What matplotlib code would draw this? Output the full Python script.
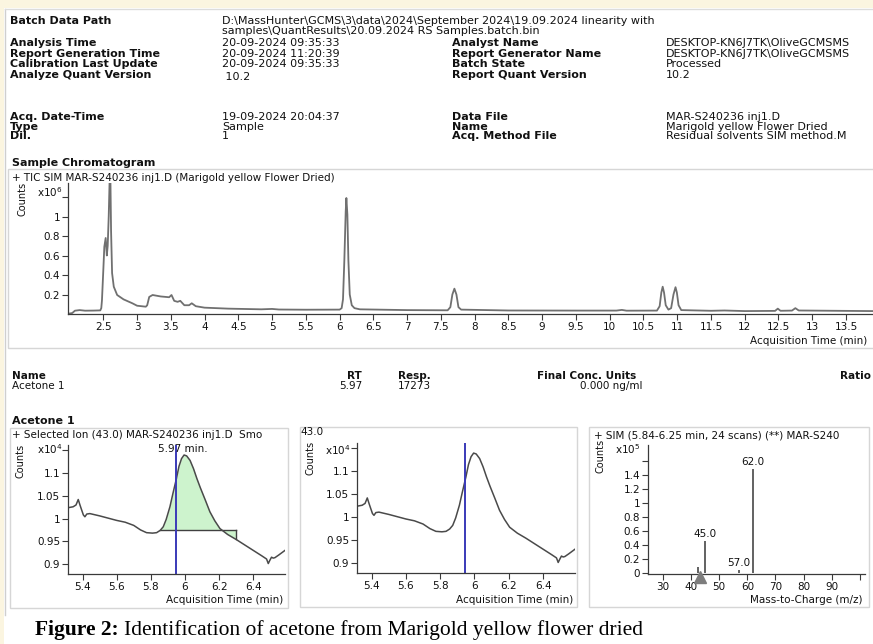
import matplotlib
matplotlib.use('Agg')
import matplotlib.pyplot as plt
import numpy as np
from matplotlib.patches import Rectangle

plt.rcParams['font.family'] = 'DejaVu Sans'

W, H = 873, 644

# ---- report header ----
hdr_left = [("Batch Data Path", 21), ("Analysis Time", 43), ("Report Generation Time", 54),
            ("Calibration Last Update", 64), ("Analyze Quant Version", 75),
            ("Acq. Date-Time", 117), ("Type", 127), ("Dil.", 136)]
hdr_left_vals = [("D:\\MassHunter\\GCMS\\3\\data\\2024\\September 2024\\19.09.2024 linearity with", 21),
                 ("samples\\QuantResults\\20.09.2024 RS Samples.batch.bin", 31),
                 ("20-09-2024 09:35:33", 43), ("20-09-2024 11:20:39", 54),
                 ("20-09-2024 09:35:33", 64), (" 10.2", 77),
                 ("19-09-2024 20:04:37", 117), ("Sample", 127), ("1", 136)]
hdr_right = [("Analyst Name", 43), ("Report Generator Name", 54), ("Batch State", 64),
             ("Report Quant Version", 75), ("Data File", 117), ("Name", 127), ("Acq. Method File", 136)]
hdr_right_vals = [("DESKTOP-KN6J7TK\\OliveGCMSMS", 43), ("DESKTOP-KN6J7TK\\OliveGCMSMS", 54),
                  ("Processed", 64), ("10.2", 75), ("MAR-S240236 inj1.D", 117),
                  ("Marigold yellow Flower Dried", 127), ("Residual solvents SIM method.M", 136)]

# ---- TIC chromatogram (counts x10^6) ----
tic_time = [2.0, 2.04, 2.08, 2.15, 2.23, 2.35, 2.455, 2.47, 2.48, 2.50, 2.515, 2.535, 2.552,
            2.565, 2.58, 2.595, 2.605, 2.615, 2.63, 2.655, 2.705, 2.80, 2.93, 3.0, 3.13, 3.15,
            3.18, 3.23, 3.35, 3.475, 3.51, 3.55, 3.60, 3.64, 3.70, 3.77, 3.81, 3.87, 4.0, 4.35,
            4.84, 5.0, 5.1, 5.5, 6.0, 6.03, 6.05, 6.07, 6.09, 6.10, 6.115, 6.13, 6.15, 6.18,
            6.22, 6.3, 7.0, 7.6, 7.64, 7.67, 7.70, 7.73, 7.76, 7.80, 8.5, 9.5, 10.1, 10.18,
            10.25, 10.70, 10.74, 10.765, 10.785, 10.805, 10.83, 10.87, 10.91, 10.945, 10.975,
            10.995, 11.02, 11.06, 11.5, 11.7, 12.0, 12.45, 12.49, 12.53, 12.70, 12.75, 12.80,
            13.5, 13.9]
tic_counts = [0.005, 0.01, 0.034, 0.04, 0.034, 0.035, 0.037, 0.06, 0.14, 0.45, 0.69, 0.78, 0.60,
              0.70, 1.0, 1.42, 1.40, 0.85, 0.42, 0.28, 0.195, 0.15, 0.11, 0.085, 0.075, 0.09,
              0.175, 0.195, 0.18, 0.172, 0.195, 0.135, 0.125, 0.135, 0.09, 0.09, 0.11, 0.08,
              0.065, 0.055, 0.048, 0.052, 0.046, 0.044, 0.045, 0.06, 0.15, 0.55, 1.05, 1.19,
              1.02, 0.55, 0.2, 0.09, 0.06, 0.048, 0.04, 0.038, 0.07, 0.2, 0.26, 0.2, 0.07,
              0.045, 0.036, 0.035, 0.035, 0.042, 0.034, 0.035, 0.08, 0.22, 0.28, 0.22, 0.09,
              0.045, 0.06, 0.2, 0.275, 0.22, 0.09, 0.04, 0.033, 0.036, 0.030, 0.032, 0.055,
              0.033, 0.035, 0.06, 0.036, 0.032, 0.03]
tic_xticks = np.arange(2.5, 14.0, 0.5)
tic_yticks = [0.2, 0.4, 0.6, 0.8, 1, 1.2]
tic_ylabels = ['0.2', '0.4', '0.6', '0.8', '1', '']

# ---- table ----
tbl_head = [("Name", 12, 'left'), ("RT", 362, 'right'), ("Resp.", 398, 'left'),
            ("Final Conc. Units", 537, 'left'), ("Ratio", 840, 'left')]
tbl_row = [("Acetone 1", 12, 'left'), ("5.97", 362, 'right'), ("17273", 398, 'left'),
           ("0.000 ng/ml", 643, 'right')]

# ---- extracted ion 43.0 (counts x10^4) ----
eic_time = [5.316, 5.345, 5.362, 5.375, 5.385, 5.394, 5.405, 5.414, 5.425, 5.443, 5.50, 5.60,
            5.65, 5.70, 5.74, 5.775, 5.81, 5.834, 5.855, 5.873, 5.89, 5.912, 5.93, 5.95, 5.965,
            5.98, 5.995, 6.01, 6.03, 6.05, 6.07, 6.09, 6.12, 6.146, 6.175, 6.205, 6.25, 6.30,
            6.35, 6.40, 6.45, 6.478, 6.488, 6.497, 6.507, 6.517, 6.527, 6.55, 6.586]
eic_counts = [1.024, 1.026, 1.030, 1.042, 1.030, 1.020, 1.008, 1.004, 1.010, 1.011, 1.006, 0.996,
              0.992, 0.985, 0.975, 0.969, 0.968, 0.969, 0.974, 0.982, 0.998, 1.026, 1.056,
              1.088, 1.115, 1.132, 1.140, 1.138, 1.128, 1.110, 1.088, 1.068, 1.040, 1.015,
              0.995, 0.978, 0.965, 0.954, 0.942, 0.930, 0.918, 0.911, 0.901, 0.908, 0.915,
              0.913, 0.914, 0.920, 0.930]
int_start, int_end, int_base = 5.855, 6.30, 0.974
int_end_level = 0.954
rt_line = 5.945
peak_time, peak_text = 5.985, '5.97 min.'
eic_xticks = [5.4, 5.6, 5.8, 6.0, 6.2, 6.4]
eic_yticks = [0.9, 0.95, 1.0, 1.05, 1.1, 1.15]
eic_ylabels = ['0.9', '0.95', '1', '1.05', '1.1', '']

# ---- SIM spectrum (counts x10^5) ----
mz = [42.6, 45.0, 57.0, 62.0]
abundance = [0.09, 0.45, 0.04, 1.49]
mz_labels = ['', '45.0', '57.0', '62.0']
ion_marker = 43.2
ms_xticks = [30, 40, 50, 60, 70, 80, 90, 100]
ms_xlabels = ['30', '40', '50', '60', '70', '80', '90', '']
ms_yticks = [0, 0.2, 0.4, 0.6, 0.8, 1, 1.2, 1.4, 1.6]
ms_ylabels = ['0', '0.2', '0.4', '0.6', '0.8', '1', '1.2', '1.4', '']


def rect(x0, y0, x1, y1):
    return [x0 / W, 1 - y1 / H, (x1 - x0) / W, (y1 - y0) / H]


def txt(x, y, s, **kw):
    kw.setdefault('va', 'center')
    kw.setdefault('fontsize', 8)
    return fig.text(x / W, 1 - y / H, s, color='#111111', **kw)


def frame(x0, y0, x1, y1, color='#d6d6d6', fill=False, lw=1.0):
    fig.add_artist(Rectangle((x0 / W, 1 - y1 / H), (x1 - x0) / W, (y1 - y0) / H,
                             transform=fig.transFigure, fill=fill, ec=None if fill else color,
                             fc=color if fill else 'none', lw=0 if fill else lw))


def style(ax):
    for s in ['top', 'right']:
        ax.spines[s].set_visible(False)
    for s in ['left', 'bottom']:
        ax.spines[s].set_color('#3a3a3a')
        ax.spines[s].set_linewidth(0.9)
    ax.tick_params(direction='out', length=4, width=0.8, labelsize=7.5, pad=1.5,
                   colors='#3a3a3a', labelcolor='#111111')
    ax.patch.set_alpha(0)


fig = plt.figure(figsize=(W / 100, H / 100), dpi=100)

# page background
frame(0, 0, W, 8, color='#fbf5e0', fill=True)
frame(0, 0, 4, H, color='#fbf5e0', fill=True)
fig.add_artist(plt.Line2D([5 / W, 5 / W], [1 - 9 / H, 1 - 615 / H], transform=fig.transFigure,
                          color='#cfcfcf', lw=1))
fig.add_artist(plt.Line2D([5 / W, 1], [1 - 9 / H, 1 - 9 / H], transform=fig.transFigure,
                          color='#dcdcdc', lw=1))

for s, y in hdr_left:
    txt(10, y, s, fontweight='bold')
for s, y in hdr_left_vals:
    txt(222, y, s)
for s, y in hdr_right:
    txt(452, y, s, fontweight='bold')
for s, y in hdr_right_vals:
    txt(666, y, s)

# ---- sample chromatogram ----
txt(12, 163, "Sample Chromatogram", fontweight='bold')
frame(8, 169, W + 5, 348)
txt(12, 178, "+ TIC SIM MAR-S240236 inj1.D (Marigold yellow Flower Dried)", fontsize=7.5)
ax = fig.add_axes(rect(68, 183, 873, 314))
style(ax)
ax.plot(tic_time, tic_counts, color='#707070', lw=1.3)
ax.set_xlim(1.977, 13.90)
ax.set_ylim(0, 1.344)
ax.set_xticks(tic_xticks, [f'{v:g}' for v in tic_xticks])
ax.set_yticks(tic_yticks, tic_ylabels)
txt(22, 199, "Counts", rotation=90, fontsize=7, ha='center')
txt(37, 192, r"x10$^6$", fontsize=7.5)
txt(750, 341, "Acquisition Time (min)", fontsize=7.5)

# ---- results table ----
for s, x, ha in tbl_head:
    txt(x, 376, s, fontweight='bold', fontsize=7.5, ha=ha)
for s, x, ha in tbl_row:
    txt(x, 386, s, fontsize=7.5, ha=ha)

txt(12, 421, "Acetone 1", fontweight='bold')

# ---- left: ion 43 with integration ----
frame(10, 428, 288, 608)
txt(12, 435, "+ Selected Ion (43.0) MAR-S240236 inj1.D  Smo", fontsize=7.5)
ax1 = fig.add_axes(rect(68, 445, 285, 574))
style(ax1)
t = np.array(eic_time)
c = np.array(eic_counts)
sel = (t >= int_start) & (t <= int_end)
ax1.fill_between(t, c, int_base, where=sel, color='#cdf3cd', lw=0)
ax1.plot([int_start, int_end], [int_base, int_base], color='#404040', lw=1.0)
ax1.plot([int_end, int_end], [int_base, int_end_level], color='#404040', lw=1.0)
ax1.plot(t, c, color='#4a4a4a', lw=1.1)
ax1.axvline(rt_line, color='#3a3ab8', lw=1.4)
ax1.text(peak_time, 1.153, peak_text, ha='center', va='center', fontsize=7.5, color='#111111')
ax1.set_xlim(5.315, 6.586)
ax1.set_ylim(0.878, 1.162)
ax1.set_xticks(eic_xticks, [f'{v:g}' for v in eic_xticks])
ax1.set_yticks(eic_yticks, eic_ylabels)
txt(20, 461, "Counts", rotation=90, fontsize=7, ha='center')
txt(37, 449, r"x10$^4$", fontsize=7.5)
txt(283, 600, "Acquisition Time (min)", fontsize=7.5, ha='right')

# ---- middle: ion 43 overlay ----
frame(300, 427, 577, 607)
txt(300, 432, "43.0", fontsize=7.5)
ax2 = fig.add_axes(rect(357, 443, 575, 573))
style(ax2)
ax2.plot(t, c, color='#4a4a4a', lw=1.1)
ax2.axvline(rt_line, color='#3a3ab8', lw=1.4)
ax2.set_xlim(5.315, 6.586)
ax2.set_ylim(0.878, 1.162)
ax2.set_xticks(eic_xticks, [f'{v:g}' for v in eic_xticks])
ax2.set_yticks(eic_yticks, eic_ylabels)
txt(310, 458, "Counts", rotation=90, fontsize=7, ha='center')
txt(325, 450, r"x10$^4$", fontsize=7.5)
txt(573, 600, "Acquisition Time (min)", fontsize=7.5, ha='right')

# ---- right: SIM spectrum ----
frame(589, 427, 869, 607)
txt(594, 435, "+ SIM (5.84-6.25 min, 24 scans) (**) MAR-S240", fontsize=7.5)
ax3 = fig.add_axes(rect(648, 445, 865, 574))
style(ax3)
ax3.vlines(mz, 0, abundance, color='#555555', lw=1.3)
for m, a, lbl in zip(mz, abundance, mz_labels):
    if lbl:
        ax3.text(m, a + 0.03, lbl, ha='center', va='bottom', fontsize=7.5, color='#111111')
ax3.plot([ion_marker], [-0.06], marker='^', ms=9, color='#7d7d7d', clip_on=False, zorder=5)
ax3.set_xlim(24.7, 101.8)
ax3.set_ylim(-0.015, 1.83)
ax3.set_xticks(ms_xticks, ms_xlabels)
ax3.set_yticks(ms_yticks, ms_ylabels)
txt(600, 456, "Counts", rotation=90, fontsize=7, ha='center')
txt(615, 449, r"x10$^5$", fontsize=7.5)
txt(863, 600, "Mass-to-Charge (m/z)", fontsize=7.5, ha='right')

# ---- caption ----
cap1 = fig.text(35 / W, 1 - 630 / H, "Figure 2:", fontsize=15.5, fontweight='bold',
                family='Liberation Serif', va='center')
fig.canvas.draw()
bb = cap1.get_window_extent()
fig.text((bb.x1 + 5) / W, 1 - 630 / H, "Identification of acetone from Marigold yellow flower dried",
         fontsize=15.5, family='Liberation Serif', va='center')

fig.savefig('out.png', dpi=100)
